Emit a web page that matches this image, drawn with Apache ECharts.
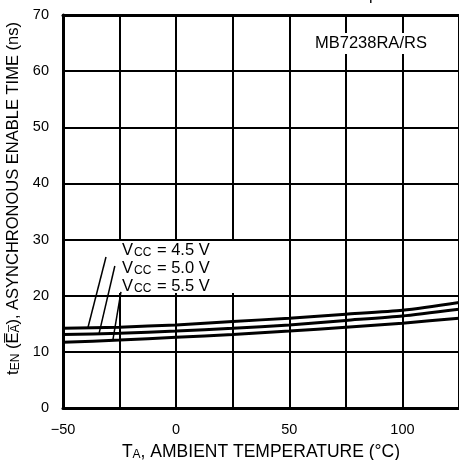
<!DOCTYPE html>
<html>
<head>
<meta charset="utf-8">
<script src="https://cdn.jsdelivr.net/npm/echarts@6/dist/echarts.min.js"></script>
<style>
  html, body { margin: 0; padding: 0; background: #fff; }
  #chart { width: 459px; height: 460px; }
</style>
</head>
<body>
<div id="chart"></div>
<script>
  // temperatures (°C)
  let temps = [-50, -25, 0, 25, 50, 75, 100, 125]
  // enable time (ns) per supply voltage
  let vcc45 = [14.2, 14.4, 14.8, 15.4, 16.0, 16.7, 17.4, 18.8]
  let vcc50 = [13.1, 13.3, 13.7, 14.2, 14.8, 15.6, 16.4, 17.6]
  let vcc55 = [11.7, 12.1, 12.6, 13.1, 13.7, 14.4, 15.1, 16.0]
  let seriesNames = ['Vcc = 4.5 V', 'Vcc = 5.0 V', 'Vcc = 5.5 V']
  let yTicks = [0, 10, 20, 30, 40, 50, 60, 70]
  let xLabels = [-50, 0, 50, 100]
  // leader lines from the labels down to each curve [x1, y1, x2, y2]
  let leaders = [
    [-31.0, 26.9, -39.0, 14.3],
    [-27.1, 25.3, -34.1, 13.2],
    [-24.4, 20.7, -28.0, 12.0]
  ]

  let font = 'Liberation Sans, Arial, sans-serif'
  let curves = [vcc45, vcc50, vcc55]

  let series = curves.map(function (vals, i) {
    return {
      name: seriesNames[i],
      type: 'line',
      z: 3,
      symbol: 'none',
      smooth: 0.2,
      lineStyle: { color: '#000', width: 3 },
      data: temps.map(function (t, j) { return [t, vals[j]] }),
      markLine: {
        silent: true,
        symbol: 'none',
        label: { show: false },
        lineStyle: { color: '#000', width: 1.5, type: 'solid' },
        data: [[{ coord: [leaders[i][0], leaders[i][1]] }, { coord: [leaders[i][2], leaders[i][3]] }]]
      }
    }
  })

  let vccText = function (v) {
    return '{v|V}{s|CC}{v| = ' + v + ' V}'
  }
  let vccRich = {
    v: { fontSize: 16.5, fontFamily: font, color: '#000' },
    s: { fontSize: 12, fontFamily: font, color: '#000', verticalAlign: 'bottom', padding: [0, 1, 0, 1] }
  }

  let option = {
    animation: false,
    backgroundColor: '#fff',
    title: {
      text: 'Enable Time vs. Ambient Temperature',
      left: 152,
      top: -17,
      textStyle: { fontFamily: font, fontSize: 16, fontWeight: 'normal', color: '#000' }
    },
    grid: { left: 63, right: 0, top: 15, bottom: 52, outerBoundsMode: 'none' },
    xAxis: [{
      type: 'value',
      min: -50,
      max: 125,
      interval: 25,
      name: '{b|T}{s|A}{b|, AMBIENT TEMPERATURE (°C)}',
      nameLocation: 'middle',
      nameGap: 35,
      nameTextStyle: {
        rich: {
          b: { fontSize: 17.5, fontFamily: font, color: '#000' },
          s: { fontSize: 12, fontFamily: font, color: '#000', verticalAlign: 'bottom' }
        }
      },
      axisLine: { show: true, onZero: false, lineStyle: { color: '#000', width: 3 } },
      axisTick: { show: false },
      axisLabel: {
        margin: 14,
        fontSize: 14.5,
        fontFamily: font,
        color: '#000',
        showMaxLabel: false,
        formatter: function (v) {
          return xLabels.indexOf(v) >= 0 ? String(v).replace('-', '\u2212') : ''
        }
      },
      splitLine: { show: true, lineStyle: { color: '#000', width: 2 } }
    }, {
      type: 'value',
      position: 'top',
      min: -50,
      max: 125,
      axisLine: { show: true, onZero: false, lineStyle: { color: '#000', width: 3 } },
      axisTick: { show: false },
      axisLabel: { show: false },
      splitLine: { show: false }
    }],
    yAxis: {
      type: 'value',
      min: yTicks[0],
      max: yTicks[yTicks.length - 1],
      interval: 10,
      name: '{b|t}{s|EN}{b| (E\u0305}{s|A\u0305}{b|), ASYNCHRONOUS ENABLE TIME (ns)}',
      nameLocation: 'middle',
      nameGap: 34,
      nameTextStyle: {
        padding: [0, 0, 0, 26],
        rich: {
          b: { fontSize: 16.5, fontFamily: font, color: '#000' },
          s: { fontSize: 12, fontFamily: font, color: '#000', verticalAlign: 'bottom' }
        }
      },
      axisLine: { show: true, onZero: false, lineStyle: { color: '#000', width: 3 } },
      axisTick: { show: false },
      axisLabel: { margin: 14, fontSize: 14.5, fontFamily: font, color: '#000' },
      splitLine: { show: true, lineStyle: { color: '#000', width: 2 } }
    },
    graphic: [
      {
        type: 'rect',
        z: 1,
        shape: { x: 65, y: 241, width: 195, height: 52 },
        style: { fill: '#fff' }
      },
      {
        type: 'text',
        z: 4,
        left: 122,
        top: 242,
        style: { text: vccText('4.5'), rich: vccRich }
      },
      {
        type: 'text',
        z: 4,
        left: 122,
        top: 260,
        style: { text: vccText('5.0'), rich: vccRich }
      },
      {
        type: 'text',
        z: 4,
        left: 122,
        top: 278,
        style: { text: vccText('5.5'), rich: vccRich }
      },
      {
        type: 'text',
        z: 4,
        left: 312,
        top: 33,
        style: {
          text: 'MB7238RA/RS',
          fontSize: 16.5,
          fontFamily: font,
          fill: '#000',
          backgroundColor: '#fff',
          padding: [2, 3, 2, 3]
        }
      }
    ],
    series: series
  }

  let myChart = echarts.init(document.getElementById('chart'))
  myChart.setOption(option)
</script>
</body>
</html>
